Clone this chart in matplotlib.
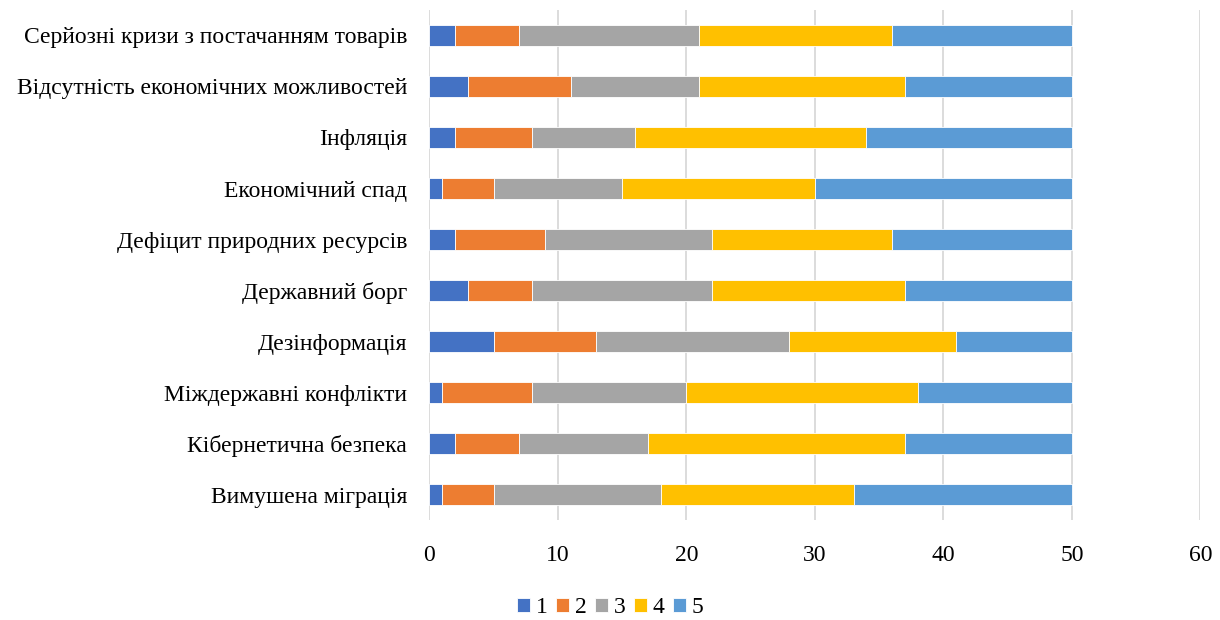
import numpy as np
import matplotlib
matplotlib.use('Agg')
import matplotlib.pyplot as plt

# категорії знизу вгору (як у Excel)
categories = ['Вимушена міграція', 'Кібернетична безпека', 'Міждержавні конфлікти',
              'Дезінформація', 'Державний борг', 'Дефіцит природних ресурсів',
              'Економічний спад', 'Інфляція', 'Відсутність економічних можливостей',
              'Серйозні кризи з постачанням товарів']
s1 = [1, 2, 1, 5, 3, 2, 1, 2, 3, 2]
s2 = [4, 5, 7, 8, 5, 7, 4, 6, 8, 5]
s3 = [13, 10, 12, 15, 14, 13, 10, 8, 10, 14]
s4 = [15, 20, 18, 13, 15, 14, 15, 18, 16, 15]
s5 = [17, 13, 12, 9, 13, 14, 20, 16, 13, 14]
series_names = ['1', '2', '3', '4', '5']
colors = ['#4472C4', '#ED7D31', '#A5A5A5', '#FFC000', '#5B9BD5']
x_ticks = [0, 10, 20, 30, 40, 50, 60]

plt.rcParams['font.family'] = ['Liberation Serif', 'DejaVu Serif']

fig = plt.figure(figsize=(12.2, 6.2), dpi=100)
ax = fig.add_axes([0.352, 0.161, 0.632, 0.823])

y = np.arange(len(categories))
left = np.zeros(len(categories))
for name, vals, c in zip(series_names, [s1, s2, s3, s4, s5], colors):
    ax.barh(y, vals, left=left, height=0.42, color=c, label=name,
            edgecolor='white', linewidth=0.6, zorder=3)
    left = left + np.array(vals)

ax.set_xlim(0, 60)
ax.set_ylim(-0.5, len(categories) - 0.5)
ax.set_xticks(x_ticks)
ax.set_yticks(y)
ax.set_yticklabels(categories)
ax.tick_params(axis='x', length=0, pad=18, labelsize=17)
ax.tick_params(axis='y', length=0, pad=16, labelsize=17)
ax.grid(axis='x', color='#D9D9D9', linewidth=1.3, zorder=0)
for s in ax.spines.values():
    s.set_visible(False)

fig.legend(loc='center', bbox_to_anchor=(0.5, 0.02), ncol=5, frameon=False,
           fontsize=17, handlelength=0.55, handleheight=0.55, handletextpad=0.25,
           columnspacing=0.35, borderaxespad=0)

fig.savefig('out.png', dpi=100)
